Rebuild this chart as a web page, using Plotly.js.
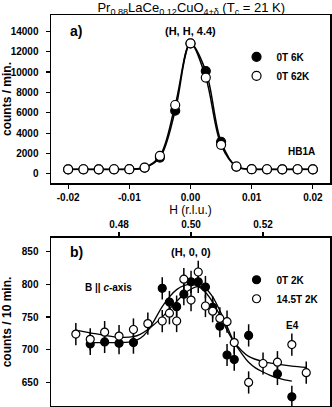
<!DOCTYPE html>
<html>
<head>
<meta charset="utf-8">
<script src="https://cdn.plot.ly/plotly-3.0.1.min.js"></script>
<style>
  body { margin: 0; background: #fff; }
  #chart { width: 332px; height: 407px; }
</style>
</head>
<body>
<div id="chart"></div>
<script>
// panel a) - HB1A scan along (H, H, 4.4)
var hA = [-0.02, -0.0175, -0.015, -0.0125, -0.01, -0.0075, -0.005, -0.0025, 0,
  0.0025, 0.005, 0.0075, 0.01, 0.0125, 0.015, 0.0175, 0.02];
var counts6K = [430, 440, 430, 440, 450, 600, 1600, 6200, 12800,
  10100, 3150, 700, 450, 440, 430, 440, 430];
var counts62K = [440, 450, 440, 450, 460, 620, 1760, 6760, 12820,
  9450, 2850, 720, 460, 450, 440, 450, 440];
var ticksA = [0, 2000, 4000, 6000, 8000, 10000, 12000, 14000];

// panel b) - E4 scan along (H, 0, 0)
var hB0T = [0.472, 0.476, 0.480, 0.484, 0.492, 0.494, 0.496, 0.498, 0.500,
  0.502, 0.504, 0.506, 0.508, 0.510, 0.512, 0.516, 0.524, 0.528];
var counts0T = [709, 712, 710, 711, 794, 773, 766, 785, 804,
  804, 796, 765, 736, 692, 685, 722, 663, 628];

var hB145T = [0.468, 0.472, 0.476, 0.480, 0.484, 0.488, 0.492, 0.494, 0.496, 0.498, 0.500,
  0.502, 0.504, 0.506, 0.508, 0.510, 0.512, 0.516, 0.520, 0.524, 0.528, 0.532];
var counts145T = [724, 716, 727, 721, 731, 740, 744, 756, 744, 808, 776,
  819, 767, 759, 748, 743, 711, 650, 679, 681, 708, 665];
var errB = 17;
var ticksB = [650, 700, 750, 800, 850];

// fit curves
var fitX0T = [0.472, 0.476, 0.480, 0.484, 0.486, 0.488, 0.490, 0.492, 0.494, 0.496, 0.498, 0.500,
  0.502, 0.504, 0.506, 0.508, 0.510, 0.512, 0.514, 0.516, 0.518, 0.520, 0.522, 0.524, 0.526, 0.528];
var fitY0T = [711, 711, 711, 713, 718, 729, 747, 766, 781, 792, 798, 800,
  797, 788, 773, 753, 730, 711, 695, 681, 672, 666, 661, 657, 654, 652];
var fitX145T = [0.468, 0.472, 0.476, 0.480, 0.484, 0.486, 0.488, 0.490, 0.492, 0.494, 0.496, 0.498,
  0.500, 0.502, 0.504, 0.506, 0.508, 0.510, 0.512, 0.514, 0.516, 0.520, 0.524, 0.528, 0.532];
var fitY145T = [730, 726, 722, 719, 720, 724, 731, 740, 750, 762, 774, 785,
  793, 797, 794, 781, 760, 736, 712, 699, 690, 682, 678, 675, 673];

var ink = "#000";
var sans = "Liberation Sans, Arial, sans-serif";

var data = [
  { x: hA, y: counts6K, mode: "lines", line: { shape: "spline", color: ink, width: 1.5 },
    xaxis: "x", yaxis: "y", showlegend: false, hoverinfo: "skip" },
  { x: hA, y: counts62K, mode: "lines", line: { shape: "spline", color: ink, width: 1.5 },
    xaxis: "x", yaxis: "y", showlegend: false, hoverinfo: "skip" },
  { x: hA, y: counts6K, mode: "markers", name: "<b>0T 6K</b>",
    marker: { size: 9, color: ink, line: { color: ink, width: 1.2 } },
    xaxis: "x", yaxis: "y", legend: "legend" },
  { x: hA, y: counts62K, mode: "markers", name: "<b>0T 62K</b>",
    marker: { size: 9, color: "#fff", line: { color: ink, width: 1.2 } },
    xaxis: "x", yaxis: "y", legend: "legend" },

  { x: fitX0T, y: fitY0T, mode: "lines", line: { shape: "spline", color: ink, width: 1.3 },
    xaxis: "x2", yaxis: "y2", showlegend: false, hoverinfo: "skip" },
  { x: fitX145T, y: fitY145T, mode: "lines", line: { shape: "spline", color: ink, width: 1.3 },
    xaxis: "x2", yaxis: "y2", showlegend: false, hoverinfo: "skip" },
  { x: hB0T, y: counts0T, mode: "markers", name: "<b>0T 2K</b>",
    marker: { size: 8, color: ink, line: { color: ink, width: 1.2 } },
    error_y: { type: "constant", value: errB, width: 0, thickness: 1.5, color: ink },
    xaxis: "x2", yaxis: "y2", legend: "legend2" },
  { x: hB145T, y: counts145T, mode: "markers", name: "<b>14.5T 2K</b>",
    marker: { size: 8, color: "#fff", line: { color: ink, width: 1.2 } },
    error_y: { type: "constant", value: errB, width: 0, thickness: 1.5, color: ink },
    xaxis: "x2", yaxis: "y2", legend: "legend2" }
];

var axisStyle = {
  showline: true, linecolor: ink, linewidth: 1.5, mirror: true,
  ticks: "outside", ticklen: 4, tickwidth: 1.2, tickcolor: ink,
  showgrid: false, zeroline: false,
  tickfont: { family: sans, size: 10, color: ink, weight: "bold" }
};

var layout = {
  width: 332, height: 407,
  margin: { l: 51, r: 2, t: 15, b: 1 },
  paper_bgcolor: "#fff", plot_bgcolor: "#fff",
  font: { family: sans, color: ink },
  title: { text: "Pr<sub>0.88</sub>LaCe<sub>0.12</sub>CuO<sub>4±δ</sub> (T<sub>c</sub> = 21 K)",
    font: { size: 13, family: sans }, x: 0.576, xanchor: "center", y: 0.993, yanchor: "top" },
  xaxis: Object.assign({}, axisStyle, {
    domain: [0, 1], anchor: "y", range: [-0.0228, 0.0228],
    tickvals: [-0.02, -0.01, 0, 0.01, 0.02], ticktext: ["-0.02", "-0.01", "0.00", "0.01", "0.02"],
    title: { text: "H (r.l.u.)", font: { size: 12, family: sans }, standoff: 2 }
  }),
  yaxis: Object.assign({}, axisStyle, {
    domain: [0.5703, 1], anchor: "x", range: [-900, 15600],
    tickvals: ticksA, ticktext: ticksA.map(String), ticklabelstandoff: 5,
    title: { text: "<b>counts / min.</b>", font: { size: 12, family: sans }, standoff: 2 }
  }),
  xaxis2: Object.assign({}, axisStyle, {
    domain: [0, 1], anchor: "y2", side: "top", range: [0.4611, 0.5386],
    tickvals: [0.48, 0.50, 0.52], ticktext: ["0.48", "0.50", "0.52"]
  }),
  yaxis2: Object.assign({}, axisStyle, {
    domain: [0, 0.4297], anchor: "x2", range: [614, 871],
    tickvals: ticksB, ticktext: ticksB.map(String), ticklabelstandoff: 5,
    title: { text: "<b>counts / 10 min.</b>", font: { size: 12, family: sans }, standoff: 14 }
  }),
  legend: { x: 0.665, y: 0.93, xanchor: "left", yanchor: "top", bgcolor: "rgba(0,0,0,0)",
    font: { size: 10, family: sans }, tracegroupgap: 0, itemwidth: 30 },
  legend2: { x: 0.665, y: 0.36, xanchor: "left", yanchor: "top", bgcolor: "rgba(0,0,0,0)",
    font: { size: 10, family: sans }, tracegroupgap: 0, itemwidth: 30 },
  annotations: [
    { text: "<b>a)</b>", xref: "paper", yref: "paper", x: 0.06, y: 0.958, showarrow: false,
      font: { size: 14 }, xanchor: "left", yanchor: "middle" },
    { text: "<b>(H, H, 4.4)</b>", xref: "paper", yref: "paper", x: 0.5, y: 0.958, showarrow: false,
      font: { size: 11 }, xanchor: "center", yanchor: "middle" },
    { text: "<b>HB1A</b>", xref: "paper", yref: "paper", x: 0.955, y: 0.65, showarrow: false,
      font: { size: 10 }, xanchor: "right", yanchor: "middle" },
    { text: "<b>b)</b>", xref: "paper", yref: "paper", x: 0.06, y: 0.394, showarrow: false,
      font: { size: 14 }, xanchor: "left", yanchor: "middle" },
    { text: "<b>(H, 0, 0)</b>", xref: "paper", yref: "paper", x: 0.5, y: 0.394, showarrow: false,
      font: { size: 11 }, xanchor: "center", yanchor: "middle" },
    { text: "<b>B || <i>c</i>-axis</b>", xref: "paper", yref: "paper", x: 0.115, y: 0.302, showarrow: false,
      font: { size: 10 }, xanchor: "left", yanchor: "middle" },
    { text: "<b>E4</b>", xref: "paper", yref: "paper", x: 0.865, y: 0.207, showarrow: false,
      font: { size: 10 }, xanchor: "center", yanchor: "middle" }
  ]
};

Plotly.newPlot("chart", data, layout, { staticPlot: true });
</script>
</body>
</html>
